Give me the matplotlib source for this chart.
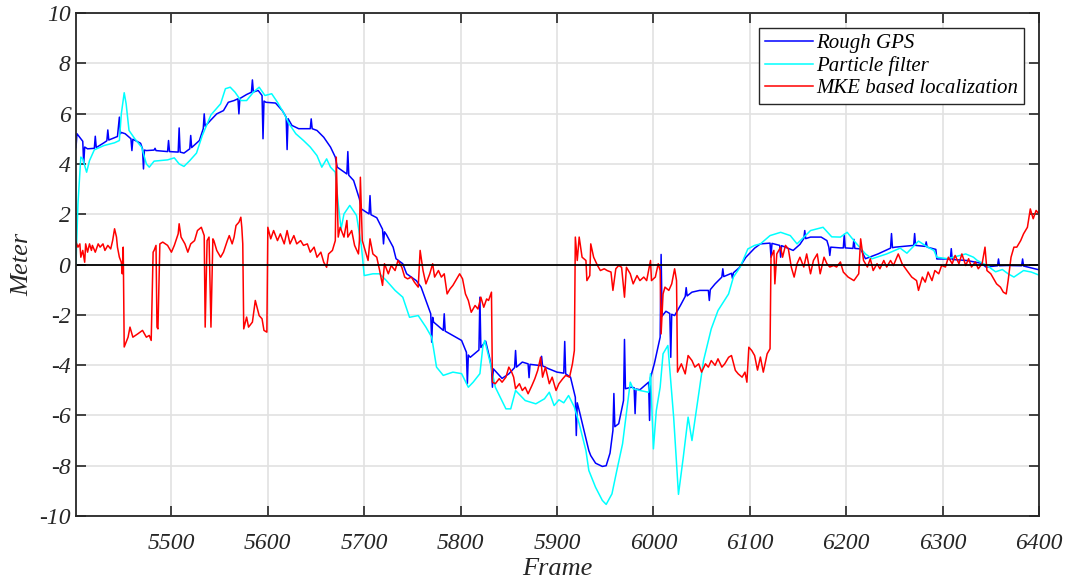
import matplotlib
matplotlib.use("Agg")
import matplotlib.pyplot as plt

plt.rcParams['font.family'] = 'Liberation Serif'
plt.rcParams['font.style'] = 'italic'
plt.rcParams['axes.unicode_minus'] = False

# Rough GPS (blue), spikes kept as single-frame jumps
gps_frame = [5401, 5402, 5406, 5408, 5409, 5410, 5413, 5420, 5421, 5422, 5430, 5433, 5434, 5435,
             5444, 5446, 5447, 5448, 5452, 5458, 5459, 5460, 5468, 5470, 5471, 5472, 5474, 5482,
             5483, 5484, 5496, 5497, 5498, 5507, 5508, 5509, 5513, 5519, 5520, 5521, 5529, 5533,
             5534, 5535, 5541, 5547, 5554, 5559, 5565, 5569, 5570, 5571, 5578, 5583, 5584, 5585,
             5590, 5594, 5595, 5596, 5598, 5608, 5615, 5619, 5620, 5621, 5625, 5632, 5644, 5645,
             5646, 5651, 5658, 5665, 5670, 5672, 5682, 5683, 5684, 5689, 5695, 5697, 5705, 5706,
             5707, 5713, 5719, 5720, 5721, 5723, 5730, 5733, 5740, 5744, 5754, 5759, 5764, 5769,
             5770, 5771, 5772, 5782, 5783, 5784, 5795, 5801, 5806, 5807, 5808, 5810, 5819, 5820,
             5821, 5826, 5830, 5832, 5833, 5834, 5843, 5850, 5856, 5857, 5858, 5864, 5870, 5871,
             5872, 5883, 5884, 5885, 5891, 5900, 5907, 5908, 5909, 5914, 5919, 5920, 5921, 5923,
             5933, 5935, 5940, 5947, 5951, 5955, 5958, 5959, 5960, 5964, 5969, 5970, 5971, 5977,
             5980, 5981, 5982, 5986, 5995, 5996, 5997, 6001, 6007, 6008, 6009, 6013, 6017, 6018,
             6019, 6022, 6028, 6033, 6034, 6035, 6040, 6048, 6057, 6058, 6059, 6064, 6071, 6072,
             6073, 6081, 6082, 6083, 6089, 6096, 6105, 6111, 6121, 6122, 6123, 6131, 6132, 6133,
             6145, 6152, 6156, 6157, 6158, 6163, 6174, 6180, 6182, 6183, 6184, 6194, 6197, 6198,
             6199, 6207, 6208, 6209, 6215, 6220, 6233, 6246, 6247, 6248, 6251, 6270, 6271, 6272,
             6282, 6283, 6284, 6293, 6294, 6304, 6308, 6309, 6310, 6325, 6340, 6345, 6357, 6358,
             6359, 6367, 6382, 6383, 6384, 6400]
gps_m = [4.65, 5.2, 5.0, 4.9, 4.0, 4.67, 4.6, 4.62, 5.1, 4.65, 4.84, 4.92, 5.35, 4.95,
         5.09, 5.86, 5.2, 5.25, 5.2, 5.0, 4.53, 4.98, 4.82, 4.6, 3.8, 4.55, 4.53, 4.55,
         4.62, 4.53, 4.49, 4.93, 4.49, 4.47, 5.43, 4.47, 4.43, 4.6, 5.13, 4.65, 4.93, 5.4,
         5.99, 5.5, 5.75, 5.99, 6.12, 6.45, 6.52, 6.59, 5.99, 6.6, 6.76, 6.85, 7.34, 6.86,
         6.92, 6.72, 5.0, 6.5, 6.45, 6.42, 6.12, 5.86, 4.57, 5.8, 5.53, 5.4, 5.4, 5.79,
         5.4, 5.33, 5.06, 4.67, 4.27, 3.87, 3.6, 4.49, 3.55, 3.34, 2.61, 2.21, 2.01, 2.74,
         1.98, 1.86, 1.4, 0.82, 1.3, 1.19, 0.69, 0.23, 0.03, -0.37, -0.64, -0.9, -1.43, -1.96,
         -3.09, -2.1, -2.29, -2.62, -1.96, -2.65, -2.89, -3.02, -3.49, -4.74, -3.6, -3.69, -3.4, -1.3,
         -3.3, -3.05, -3.7, -4.1, -4.88, -4.15, -4.53, -4.35, -4.1, -3.42, -4.08, -3.88, -3.95, -4.5,
         -3.97, -4.02, -3.65, -4.03, -4.14, -4.28, -4.32, -3.06, -4.35, -4.48, -5.28, -6.8, -5.5, -5.8,
         -7.4, -7.6, -7.9, -8.03, -8.0, -7.5, -6.6, -5.13, -6.45, -6.33, -5.41, -2.98, -4.94, -4.88,
         -4.9, -5.93, -4.95, -4.98, -4.68, -6.2, -4.5, -3.94, -2.89, 0.4, -2.05, -1.86, -1.95, -3.69,
         -1.98, -2.03, -1.63, -1.27, -0.92, -1.25, -1.1, -1.03, -1.03, -1.43, -1.0, -0.77, -0.5, -0.17,
         -0.48, -0.35, -0.55, -0.33, -0.13, 0.29, 0.65, 0.82, 0.85, 0.29, 0.84, 0.76, 0.29, 0.75,
         0.56, 0.8, 1.03, 1.35, 1.03, 1.09, 1.09, 0.95, 0.69, 0.36, 0.69, 0.66, 0.66, 1.2,
         0.66, 0.64, 1.0, 0.64, 0.62, 0.23, 0.42, 0.65, 1.23, 0.67, 0.69, 0.76, 1.23, 0.76,
         0.72, 0.9, 0.69, 0.6, 0.22, 0.22, 0.2, 0.63, 0.2, 0.16, 0.05, -0.1, -0.05, 0.22,
         -0.05, -0.04, -0.05, 0.22, -0.06, -0.21]

# Particle filter (cyan)
pf_frame = [5401, 5403, 5406, 5408, 5412, 5415, 5420, 5430, 5441, 5446, 5448, 5451, 5453, 5456,
            5462, 5469, 5474, 5477, 5482, 5496, 5503, 5508, 5513, 5519, 5526, 5532, 5541, 5551,
            5556, 5561, 5566, 5572, 5578, 5585, 5591, 5597, 5604, 5610, 5616, 5622, 5629, 5637,
            5644, 5651, 5656, 5661, 5665, 5670, 5673, 5676, 5679, 5685, 5692, 5697, 5700, 5709,
            5716, 5723, 5732, 5740, 5747, 5756, 5764, 5770, 5775, 5782, 5792, 5801, 5808, 5813,
            5820, 5823, 5825, 5831, 5836, 5847, 5852, 5857, 5867, 5878, 5887, 5892, 5897, 5902,
            5907, 5912, 5918, 5923, 5930, 5933, 5940, 5947, 5951, 5957, 5962, 5968, 5971, 5976,
            5979, 5986, 5995, 5997, 6000, 6003, 6007, 6010, 6015, 6021, 6026, 6031, 6036, 6040,
            6047, 6052, 6060, 6067, 6078, 6083, 6090, 6098, 6105, 6111, 6121, 6132, 6142, 6149,
            6159, 6163, 6170, 6176, 6185, 6194, 6201, 6208, 6220, 6227, 6242, 6256, 6263, 6275,
            6285, 6291, 6294, 6305, 6324, 6332, 6336, 6346, 6355, 6362, 6368, 6374, 6384, 6392,
            6400]
pf_m = [0.0, 2.4, 4.27, 4.2, 3.67, 4.13, 4.56, 4.73, 4.84, 4.93, 5.99, 6.83, 6.39, 5.33,
        5.0, 4.67, 4.0, 3.87, 4.11, 4.16, 4.24, 4.0, 3.9, 4.13, 4.43, 5.13, 5.95, 6.39,
        6.99, 7.05, 6.85, 6.52, 6.52, 6.85, 7.05, 6.72, 6.79, 6.45, 6.06, 5.6, 5.2, 4.93,
        4.67, 4.33, 3.87, 4.2, 3.87, 3.67, 2.41, 1.42, 2.01, 2.35, 1.95, 0.76, -0.44, -0.37,
        -0.37, -0.64, -1.03, -1.3, -2.1, -2.03, -2.49, -2.89, -4.08, -4.41, -4.28, -4.34, -4.88, -4.68,
        -4.34, -3.29, -3.02, -3.95, -4.88, -5.74, -5.74, -5.01, -5.41, -5.54, -5.34, -5.08, -5.61, -5.38,
        -5.5, -5.21, -5.67, -6.33, -7.4, -8.19, -8.86, -9.38, -9.54, -9.12, -8.2, -7.13, -6.2, -4.68,
        -4.94, -5.01, -5.08, -4.34, -7.33, -5.81, -4.88, -3.55, -3.22, -6.07, -9.14, -7.66, -6.07, -7.0,
        -5.14, -3.82, -2.56, -1.83, -1.17, -0.5, -0.1, 0.62, 0.76, 0.82, 1.15, 1.28, 1.15, 0.82,
        1.2, 1.35, 1.42, 1.48, 1.1, 1.09, 1.28, 0.95, 0.42, 0.23, 0.42, 0.65, 0.45, 0.93,
        0.68, 0.56, 0.29, 0.23, 0.42, 0.29, 0.16, -0.04, -0.29, -0.2, -0.37, -0.5, -0.24, -0.3,
        -0.42]

# MKE based localization (red)
mke_frame = [5401, 5403, 5405, 5406, 5408, 5410, 5411, 5413, 5415, 5417, 5418, 5421, 5424, 5426,
             5429, 5431, 5434, 5437, 5439, 5441, 5443, 5444, 5446, 5448, 5449, 5450, 5451, 5455,
             5457, 5460, 5465, 5470, 5474, 5477, 5479, 5481, 5482, 5484, 5485, 5486, 5488, 5491,
             5496, 5500, 5503, 5507, 5508, 5510, 5514, 5517, 5520, 5524, 5527, 5531, 5534, 5535,
             5537, 5539, 5541, 5543, 5544, 5547, 5551, 5554, 5558, 5560, 5563, 5565, 5567, 5570,
             5572, 5573, 5574, 5575, 5578, 5580, 5584, 5587, 5591, 5594, 5596, 5599, 5600, 5603,
             5606, 5610, 5613, 5617, 5620, 5623, 5627, 5630, 5634, 5637, 5641, 5644, 5648, 5651,
             5655, 5658, 5661, 5663, 5667, 5670, 5671, 5673, 5675, 5679, 5682, 5683, 5687, 5690,
             5694, 5695, 5696, 5698, 5700, 5704, 5706, 5709, 5713, 5716, 5719, 5721, 5725, 5728,
             5732, 5735, 5739, 5742, 5745, 5749, 5752, 5756, 5758, 5761, 5764, 5768, 5771, 5773,
             5777, 5780, 5783, 5786, 5789, 5792, 5796, 5799, 5802, 5805, 5808, 5811, 5815, 5818,
             5821, 5824, 5827, 5829, 5832, 5833, 5836, 5840, 5843, 5847, 5850, 5853, 5855, 5857,
             5861, 5864, 5867, 5870, 5874, 5877, 5880, 5883, 5885, 5888, 5892, 5895, 5899, 5902,
             5906, 5909, 5913, 5916, 5918, 5919, 5921, 5923, 5926, 5930, 5931, 5934, 5935, 5938,
             5942, 5945, 5949, 5952, 5956, 5958, 5961, 5964, 5967, 5970, 5972, 5976, 5979, 5983,
             5986, 5990, 5993, 5997, 5998, 6002, 6005, 6007, 6008, 6010, 6012, 6016, 6019, 6022,
             6024, 6025, 6029, 6033, 6036, 6040, 6043, 6047, 6050, 6054, 6057, 6060, 6064, 6067,
             6071, 6074, 6078, 6081, 6085, 6088, 6092, 6095, 6097, 6099, 6102, 6105, 6108, 6111,
             6114, 6118, 6121, 6122, 6125, 6126, 6128, 6132, 6134, 6137, 6140, 6143, 6146, 6149,
             6152, 6156, 6159, 6163, 6166, 6170, 6173, 6177, 6180, 6183, 6187, 6190, 6194, 6197,
             6202, 6208, 6213, 6215, 6218, 6222, 6225, 6228, 6232, 6235, 6239, 6242, 6246, 6249,
             6254, 6258, 6263, 6268, 6273, 6275, 6279, 6282, 6285, 6289, 6292, 6296, 6299, 6303,
             6306, 6310, 6313, 6317, 6320, 6324, 6327, 6330, 6334, 6337, 6341, 6344, 6346, 6350,
             6353, 6356, 6360, 6363, 6366, 6368, 6371, 6374, 6377, 6381, 6384, 6388, 6391, 6394,
             6397, 6400]
mke_m = [0.89, 0.69, 0.82, 0.29, 0.56, 0.09, 0.82, 0.49, 0.82, 0.56, 0.76, 0.49, 0.82, 0.69,
         0.82, 0.56, 0.76, 0.62, 0.95, 1.42, 1.09, 0.69, 0.29, 0.09, -0.37, 0.69, -3.28, -2.89,
         -2.49, -2.89, -2.76, -2.62, -2.89, -2.82, -3.02, 0.49, 0.56, 0.76, -2.49, -2.56, 0.82, 0.89,
         0.76, 0.49, 0.76, 1.22, 1.62, 1.09, 0.82, 0.49, 0.82, 0.95, 1.35, 1.48, 1.15, -2.49,
         0.95, 1.09, -2.49, 1.02, 0.95, 0.56, 0.29, 0.49, 0.95, 1.15, 0.82, 1.09, 1.55, 1.68,
         1.88, 1.48, 0.82, -2.56, -2.09, -2.49, -2.29, -1.43, -2.03, -2.16, -2.62, -2.69, 1.48, 1.02,
         1.35, 0.95, 1.22, 0.82, 1.35, 0.82, 1.15, 0.82, 0.95, 0.76, 0.82, 0.49, 0.69, 0.29,
         0.49, 0.09, -0.11, 0.42, 0.56, 0.95, 4.27, 1.09, 1.48, 1.09, 1.75, 1.09, 1.35, 0.76,
         0.42, 0.95, 3.47, 0.95, 0.69, 0.16, 1.02, 0.42, 0.29, -0.24, -0.83, 0.03, -0.37, -0.04,
         -0.24, 0.16, -0.11, -0.5, -0.57, -0.5, -0.7, -0.9, 0.56, -0.24, -0.77, -0.37, 0.03, -0.5,
         -0.24, -0.5, -0.37, -1.17, -0.97, -0.83, -0.57, -0.37, -0.57, -1.17, -1.43, -1.9, -1.63, -1.77,
         -1.3, -1.7, -1.37, -1.43, -1.1, -4.68, -4.74, -4.54, -4.68, -4.48, -4.08, -4.28, -4.48, -4.94,
         -4.74, -5.01, -4.88, -5.14, -4.81, -4.54, -4.21, -3.69, -4.48, -4.08, -4.74, -4.48, -5.01, -4.74,
         -4.54, -4.41, -4.48, -3.95, -3.42, 1.09, 0.16, 1.09, 0.29, 0.16, -0.64, -0.44, 0.82, 0.29,
         -0.04, -0.24, -0.17, -0.24, -0.3, -1.03, -0.17, -0.04, -0.11, -1.3, -0.11, -0.37, -0.77, -0.44,
         -0.64, -0.5, -0.64, 0.16, -0.64, -0.5, 0.03, -0.24, -2.76, -1.17, -0.9, -1.03, -0.77, -0.17,
         -0.64, -4.28, -3.95, -4.35, -3.62, -3.82, -4.08, -3.95, -4.28, -3.95, -4.08, -3.82, -4.01, -3.75,
         -4.08, -3.95, -3.69, -3.62, -4.21, -4.35, -4.48, -4.28, -4.68, -3.29, -3.42, -3.62, -4.2, -3.68,
         -4.28, -3.55, -3.35, 0.29, 0.56, -0.77, 0.42, 0.69, 0.29, 0.76, 0.62, -0.1, -0.5, 0.03,
         0.29, -0.1, 0.42, -0.37, 0.16, 0.42, -0.37, 0.29, 0.03, -0.1, -0.04, -0.1, 0.1, -0.3,
         -0.5, -0.64, -0.37, 1.02, 0.16, -0.1, 0.23, -0.24, 0.03, -0.17, 0.16, -0.1, 0.16, -0.04,
         0.42, 0.03, -0.24, -0.5, -0.64, -1.03, -0.5, -0.7, -0.3, -0.64, -0.24, -0.37, -0.04, -0.1,
         0.29, 0.03, 0.36, 0.03, 0.42, -0.04, 0.23, -0.1, 0.1, -0.17, 0.03, 0.69, -0.24, -0.37,
         -0.57, -0.77, -0.9, -1.1, -1.17, -0.64, 0.29, 0.69, 0.69, 0.95, 1.22, 1.48, 2.21, 1.82,
         2.15, 2.01]

x_ticks = [5500, 5600, 5700, 5800, 5900, 6000, 6100, 6200, 6300, 6400]
y_ticks = [-10, -8, -6, -4, -2, 0, 2, 4, 6, 8, 10]

fig = plt.figure(figsize=(10.72, 5.81), dpi=100)
ax = fig.add_axes([0.0709, 0.1119, 0.8983, 0.8657])

ax.plot(gps_frame, gps_m, color='#0000ff', lw=1.1, label='Rough GPS')
ax.plot(pf_frame, pf_m, color='#00ffff', lw=1.1, label='Particle filter')
ax.plot(mke_frame, mke_m, color='#ff0000', lw=1.1, label='MKE based localization')
ax.axhline(0, color='k', lw=1.3)

ax.set_xlim(5401, 6400)
ax.set_ylim(-10, 10)
ax.set_xticks(x_ticks)
ax.set_yticks(y_ticks)
ax.set_yticklabels([str(v) for v in y_ticks])
ax.grid(True, color='#e2e2e2', lw=1.2)
ax.set_axisbelow(True)
for sp in ax.spines.values():
    sp.set_color('#262626')
    sp.set_linewidth(1.3)
ax.tick_params(direction='in', length=7, width=1.2, top=True, right=True,
               labelsize=17, colors='#262626')
ax.tick_params(axis='x', pad=12)
ax.tick_params(axis='y', pad=4)

ax.set_xlabel('Frame', fontsize=19, color='#262626', labelpad=3)
ax.set_ylabel('Meter', fontsize=19, color='#262626', labelpad=4)

leg = ax.legend(loc='upper right', prop={'size': 15},
                handlelength=2.3, handletextpad=0.15, labelspacing=0.12,
                borderpad=0.3, borderaxespad=0.7, fancybox=False,
                edgecolor='#262626', framealpha=1)
leg.get_frame().set_linewidth(1.0)

fig.savefig('out.png', dpi=100)
